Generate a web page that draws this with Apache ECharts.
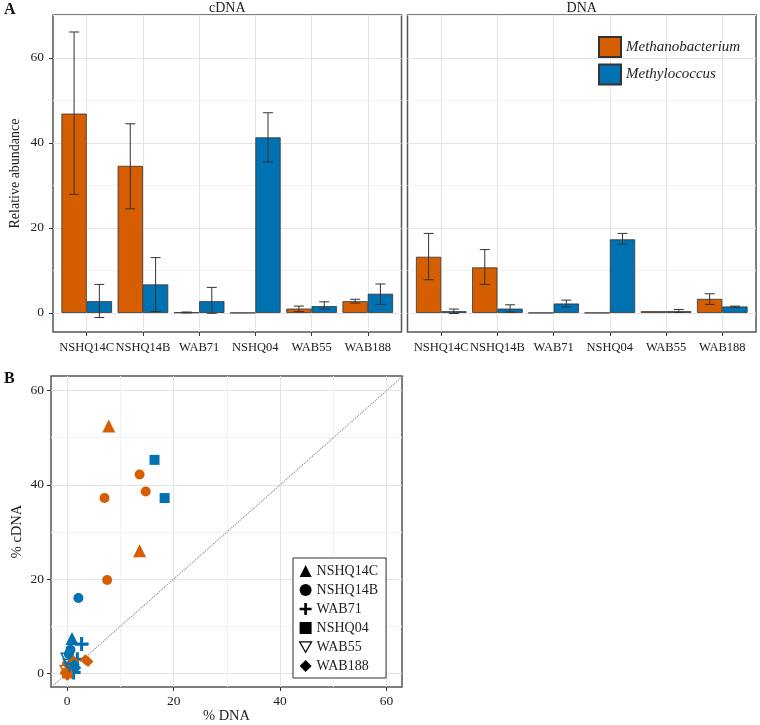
<!DOCTYPE html>
<html><head><meta charset="utf-8">
<script src="https://cdn.jsdelivr.net/npm/echarts@6/dist/echarts.min.js"></script>
<style>html,body{margin:0;padding:0;background:#fff}#c{width:760px;height:725px}</style>
</head><body><div id="c"></div>
<script>
// ---------- data ----------
const categories = ['NSHQ14C','NSHQ14B','WAB71','NSHQ04','WAB55','WAB188'];
const genera = ['Methanobacterium','Methylococcus'];

const cdnaMB     = [46.9, 34.6, 0.1, 0, 1.0, 2.75];
const cdnaMBLow  = [27.9, 24.5, 0.0, null, 0.3, 2.3];
const cdnaMBHigh = [66.1, 44.5, 0.2, null, 1.6, 3.2];
const cdnaML     = [2.75, 6.7, 2.75, 41.3, 1.6, 4.5];
const cdnaMLLow  = [-1.1, 0.3, -0.1, 35.5, 0.9, 2.0];
const cdnaMLHigh = [6.7, 13.0, 6.0, 47.1, 2.6, 6.8];

const dnaMB     = [13.2, 10.7, 0, 0, 0.4, 3.3];
const dnaMBLow  = [7.8, 6.7, null, null, null, 2.0];
const dnaMBHigh = [18.7, 14.9, null, null, null, 4.5];
const dnaML     = [0.4, 1.0, 2.2, 17.3, 0.4, 1.5];
const dnaMLLow  = [-0.15, 0.2, 1.4, 16.2, 0.1, 1.3];
const dnaMLHigh = [0.9, 1.9, 3.0, 18.7, 0.8, 1.6];

const barYTicks = [0, 20, 40, 60];
const barYMinor = [10, 30, 50, 70];
const scatTicks = [0, 20, 40, 60];
const scatMinor = [10, 30, 50];

// scatter: [% DNA, % cDNA] per replicate
const scatMB = {
  NSHQ14C: [[7.8,52.5],[13.6,26.0]],
  NSHQ14B: [[13.6,42.2],[7.0,37.2],[14.75,38.6],[7.5,19.8]],
  WAB71:   [[0.0,0.0],[0.1,0.3]],
  NSHQ04:  [[0.0,0.0],[0.0,0.0]],
  WAB55:   [[0.3,1.1],[-0.2,0.4]],
  WAB188:  [[3.9,2.5],[3.4,2.9],[1.2,2.6]]
};
const scatML = {
  NSHQ14C: [[0.9,7.4],[0.2,0.9]],
  NSHQ14B: [[2.1,16.0],[0.6,5.0],[0.3,4.1],[0.5,1.3]],
  WAB71:   [[2.7,6.2],[1.9,3.0],[1.2,0.2],[0.4,2.0]],
  NSHQ04:  [[16.4,45.3],[18.3,37.2]],
  WAB55:   [[0.0,3.0],[0.4,1.7]],
  WAB188:  [[1.3,1.9],[1.6,1.2]]
};
const diagonal = [-10, 70];

// ---------- style ----------
const FONT = 'Liberation Serif';
const ORANGE = '#D55E00', BLUE = '#0072B2';
const TXT = '#222';
const MAJ = '#e4e4e4', MIN = '#f2f2f2';
const FRAME = '#555';
const Y_MIN = -4.5, Y_MAX = 70.1;
const SX_MIN = -3.05, SX_MAX = 62.9, SY_MIN = -2.9, SY_MAX = 63.1;

const PTOP = 15, PH = 317, PW = 348.5;
const panelLeft = [53, 407.5];
const band = PW / 6.2, inset = band * 0.6;

const shapes = {
  NSHQ14C: {symbol:'triangle', size:13},
  NSHQ14B: {symbol:'circle', size:10},
  WAB71:   {symbol:'path://M3.9,0H6.1V3.9H10V6.1H6.1V10H3.9V6.1H0V3.9H3.9Z', size:14},
  NSHQ04:  {symbol:'rect', size:10},
  WAB55:   {symbol:'path://M0,0L10,0L5,8.66Z', size:12, hollow:true},
  WAB188:  {symbol:'diamond', size:11}
};

function errData(lo, hi){
  const out = [];
  lo.forEach((v,i)=>{ if(v!==null && hi[i]!==null) out.push([i, v, hi[i]]); });
  return out;
}
function errSeries(xi, yi, lo, hi, sign){
  return {
    type:'custom', xAxisIndex:xi, yAxisIndex:yi, silent:true, z:5,
    encode:{x:0, y:[1,2]},
    data: errData(lo, hi),
    renderItem:function(params, api){
      const i = api.value(0);
      const a = api.coord([i, api.value(1)]), b = api.coord([i, api.value(2)]);
      const bw = api.size([1,0])[0];
      const x = a[0] + sign * bw * 0.225;
      const cap = 5;
      const st = {stroke:'#333', lineWidth:1};
      return {type:'group', children:[
        {type:'line', shape:{x1:x, y1:a[1], x2:x, y2:b[1]}, style:st},
        {type:'line', shape:{x1:x-cap, y1:a[1], x2:x+cap, y2:a[1]}, style:st},
        {type:'line', shape:{x1:x-cap, y1:b[1], x2:x+cap, y2:b[1]}, style:st}
      ]};
    }
  };
}

const NOLINE = {show:false, onZero:false};
const grids = [], xAxes = [], yAxes = [];
panelLeft.forEach((L, p)=>{
  grids.push({left:L, top:PTOP, width:PW, height:PH, show:true, borderColor:FRAME, borderWidth:1.5, backgroundColor:'#fff', containLabel:false});
  grids.push({left:L+inset, top:PTOP, width:PW-2*inset, height:PH, containLabel:false});
  const gf = p*2, gd = p*2+1;
  xAxes.push({type:'value', gridIndex:gf, min:0, max:1, show:false, axisLine:NOLINE});
  xAxes.push({type:'category', gridIndex:gd, data:categories, boundaryGap:false, position:'bottom',
    axisLine:NOLINE, axisTick:{show:true, length:4, lineStyle:{color:'#333'}},
    axisLabel:{fontFamily:FONT, fontSize:12.5, color:TXT, margin:9, interval:0},
    splitLine:{show:true, lineStyle:{color:MAJ, width:1}}});
  yAxes.push({type:'value', gridIndex:gf, min:Y_MIN, max:Y_MAX, position:'left',
    axisLine:NOLINE,
    axisTick:{show:p===0, length:4, customValues:barYTicks, lineStyle:{color:'#333'}},
    axisLabel:{show:p===0, customValues:barYTicks, fontFamily:FONT, fontSize:13.5, color:TXT, margin:9},
    splitLine:{show:true, lineStyle:{color:MAJ, width:1}},
    name: p===0 ? 'Relative abundance' : '', nameLocation:'middle', nameGap:31,
    nameTextStyle:{fontFamily:FONT, fontSize:14, color:TXT}});
  yAxes.push({type:'value', gridIndex:gf, min:Y_MIN, max:Y_MAX, position:'right',
    axisLine:NOLINE, axisTick:{show:false, customValues:barYMinor}, axisLabel:{show:false},
    splitLine:{show:true, lineStyle:{color:MIN, width:1}}});
  yAxes.push({type:'value', gridIndex:gd, min:Y_MIN, max:Y_MAX, show:false, axisLine:NOLINE, splitLine:{show:false}});
});
// scatter grid
grids.push({left:51, top:376, width:351, height:312, show:true, borderColor:FRAME, borderWidth:1.5, backgroundColor:'#fff'});
xAxes.push({type:'value', gridIndex:4, min:SX_MIN, max:SX_MAX, position:'bottom',
  axisLine:NOLINE, axisTick:{show:true, length:4, customValues:scatTicks, lineStyle:{color:'#333'}},
  axisLabel:{customValues:scatTicks, fontFamily:FONT, fontSize:13.5, color:TXT, margin:7},
  splitLine:{show:true, lineStyle:{color:MAJ, width:1}},
  name:'% DNA', nameLocation:'middle', nameGap:22, nameTextStyle:{fontFamily:FONT, fontSize:14.5, color:TXT, verticalAlign:'top'}});
xAxes.push({type:'value', gridIndex:4, min:SX_MIN, max:SX_MAX, position:'top',
  axisLine:NOLINE, axisTick:{show:false, customValues:scatMinor}, axisLabel:{show:false},
  splitLine:{show:true, lineStyle:{color:MIN, width:1}}});
yAxes.push({type:'value', gridIndex:4, min:SY_MIN, max:SY_MAX, position:'left',
  axisLine:NOLINE, axisTick:{show:true, length:4, customValues:scatTicks, lineStyle:{color:'#333'}},
  axisLabel:{customValues:scatTicks, fontFamily:FONT, fontSize:13.5, color:TXT, margin:7},
  splitLine:{show:true, lineStyle:{color:MAJ, width:1}},
  name:'% cDNA', nameLocation:'middle', nameGap:26, nameTextStyle:{fontFamily:FONT, fontSize:14.5, color:TXT}});
yAxes.push({type:'value', gridIndex:4, min:SY_MIN, max:SY_MAX, position:'right',
  axisLine:NOLINE, axisTick:{show:false, customValues:scatMinor}, axisLabel:{show:false},
  splitLine:{show:true, lineStyle:{color:MIN, width:1}}});

function barSeries(name, data, color, xi, yi){
  return {type:'bar', name:name, data:data, xAxisIndex:xi, yAxisIndex:yi,
    barWidth:'45%', barGap:'0%', z:3,
    itemStyle:{color:color, borderColor:'#333', borderWidth:0.8}};
}

const series = [
  barSeries(genera[0], cdnaMB, ORANGE, 1, 2),
  barSeries(genera[1], cdnaML, BLUE, 1, 2),
  barSeries(genera[0], dnaMB, ORANGE, 3, 5),
  barSeries(genera[1], dnaML, BLUE, 3, 5),
  errSeries(1, 2, cdnaMBLow, cdnaMBHigh, -1),
  errSeries(1, 2, cdnaMLLow, cdnaMLHigh, 1),
  errSeries(3, 5, dnaMBLow, dnaMBHigh, -1),
  errSeries(3, 5, dnaMLLow, dnaMLHigh, 1),
  {type:'line', xAxisIndex:4, yAxisIndex:6, data:diagonal.map(v=>[v,v]), showSymbol:false, silent:true, clip:true, z:2,
   lineStyle:{type:'dotted', color:'#888', width:1.1}}
];

function ptStyle(s, col){
  return shapes[s].hollow ? {color:'rgba(0,0,0,0)', borderColor:col, borderWidth:1.5, opacity:1} : {color:col, opacity:1};
}
const sampleLegend = [];
categories.forEach(s=>{
  const sh = shapes[s];
  const data = scatMB[s].map(p=>({value:p, itemStyle:ptStyle(s, ORANGE)}))
    .concat(scatML[s].map(p=>({value:p, itemStyle:ptStyle(s, BLUE)})));
  series.push({type:'scatter', name:s, xAxisIndex:4, yAxisIndex:6, symbol:sh.symbol, symbolSize:sh.size, data:data, z:4,
    itemStyle:{opacity:1}});
  sampleLegend.push({name:s, itemStyle: sh.hollow ? {color:'rgba(0,0,0,0)', borderColor:'#000', borderWidth:1.2, opacity:1} : {color:'#000', borderWidth:0, opacity:1}});
});

const option = {
  animation:false,
  backgroundColor:'#fff',
  textStyle:{fontFamily:FONT},
  grid:grids, xAxis:xAxes, yAxis:yAxes,
  legend:[
    {data:genera.map(g=>({name:g, icon:'rect'})), left:598, top:36, orient:'vertical', itemWidth:22, itemHeight:20, itemGap:5.5, selectedMode:false,
     padding:0, textStyle:{fontFamily:FONT, fontStyle:'italic', fontSize:15, color:TXT}},
    {data:sampleLegend, left:293, top:558, orient:'vertical', itemWidth:12, itemHeight:12, itemGap:5, selectedMode:false,
     padding:[6,8,5,6], borderColor:'#333', borderWidth:1, backgroundColor:'#fff',
     textStyle:{fontFamily:FONT, fontSize:14, color:TXT}}
  ],
  graphic:[
    {type:'text', left:4, top:2, style:{text:'A', font:'bold 16px "Liberation Serif"', fill:'#111'}},
    {type:'text', left:4, top:371, style:{text:'B', font:'bold 16px "Liberation Serif"', fill:'#111'}},
    {type:'text', x:panelLeft[0]+PW/2, y:8, style:{text:'cDNA', font:'14px "Liberation Serif"', fill:TXT, align:'center', verticalAlign:'middle'}},
    {type:'text', x:panelLeft[1]+PW/2, y:8, style:{text:'DNA', font:'14px "Liberation Serif"', fill:TXT, align:'center', verticalAlign:'middle'}}
  ],
  series:series
};
const chart = echarts.init(document.getElementById('c'));
chart.setOption(option);
</script>
</body></html>
